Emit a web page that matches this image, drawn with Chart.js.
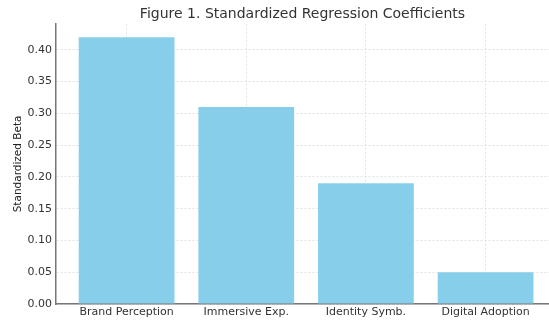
<!DOCTYPE html>
<html>
<head>
<meta charset="utf-8">
<script src="https://cdn.jsdelivr.net/npm/chart.js@4"></script>
<style>
  html, body { margin: 0; padding: 0; background: #fff; }
  #wrap { width: 549px; height: 320px; }
</style>
</head>
<body>
<div id="wrap"><canvas id="betaChart"></canvas></div>
<script>
const categories = ['Brand Perception', 'Immersive Exp.', 'Identity Symb.', 'Digital Adoption'];
const betas = [0.42, 0.31, 0.19, 0.05];
const yTicks = [0.00, 0.05, 0.10, 0.15, 0.20, 0.25, 0.30, 0.35, 0.40];

document.addEventListener('DOMContentLoaded', function() {
    const font = 'DejaVu Sans';
    const gridStyle = {
        color: '#dcdcdc',
        lineWidth: 0.8,
        drawTicks: false,
        offset: false
    };

    const ctx = document.getElementById('betaChart').getContext('2d');
    new Chart(ctx, {
        type: 'bar',
        data: {
            datasets: [{
                label: 'Standardized Beta',
                data: betas.map((v, i) => ({ x: i, y: v })),
                backgroundColor: '#87ceeb',
                borderWidth: 0,
                barPercentage: 0.8,
                categoryPercentage: 1.0
            }]
        },
        options: {
            responsive: true,
            maintainAspectRatio: false,
            animation: false,
            layout: { padding: { top: 0, right: 0, bottom: 0, left: 0 } },
            plugins: {
                legend: { display: false },
                tooltip: { enabled: false },
                title: {
                    display: true,
                    fullSize: false,  // center over the plot area, like matplotlib
                    text: 'Figure 1. Standardized Regression Coefficients',
                    color: '#333',
                    font: { family: font, size: 14, weight: 'normal' },
                    padding: { top: 6, bottom: 1 }
                }
            },
            scales: {
                x: {
                    type: 'linear',
                    offset: false,
                    min: -0.59,
                    max: 3.53,
                    z: 1,
                    grid: gridStyle,
                    border: { color: '#777', width: 1.5, dash: [2, 2] },
                    afterBuildTicks: axis => {
                        axis.ticks = categories.map((_, i) => ({ value: i }));
                    },
                    afterFit: axis => { axis.height = 16; },
                    ticks: {
                        color: '#333',
                        padding: 2,
                        maxRotation: 0,
                        font: { family: font, size: 11 },
                        callback: value => categories[value]
                    }
                },
                y: {
                    min: 0,
                    max: 0.441,
                    z: 1,
                    grid: gridStyle,
                    border: { color: '#777', width: 1.5, dash: [2, 2] },
                    afterBuildTicks: axis => {
                        axis.ticks = yTicks.map(v => ({ value: v }));
                    },
                    afterFit: axis => { axis.width = 56; },
                    title: {
                        display: true,
                        text: 'Standardized Beta',
                        color: '#222',
                        font: { family: font, size: 10.5 },
                        padding: { top: 12, bottom: 0 }
                    },
                    ticks: {
                        color: '#333',
                        padding: 4,
                        font: { family: font, size: 11 },
                        callback: value => value.toFixed(2)
                    }
                }
            }
        }
    });
});
</script>
</body>
</html>
